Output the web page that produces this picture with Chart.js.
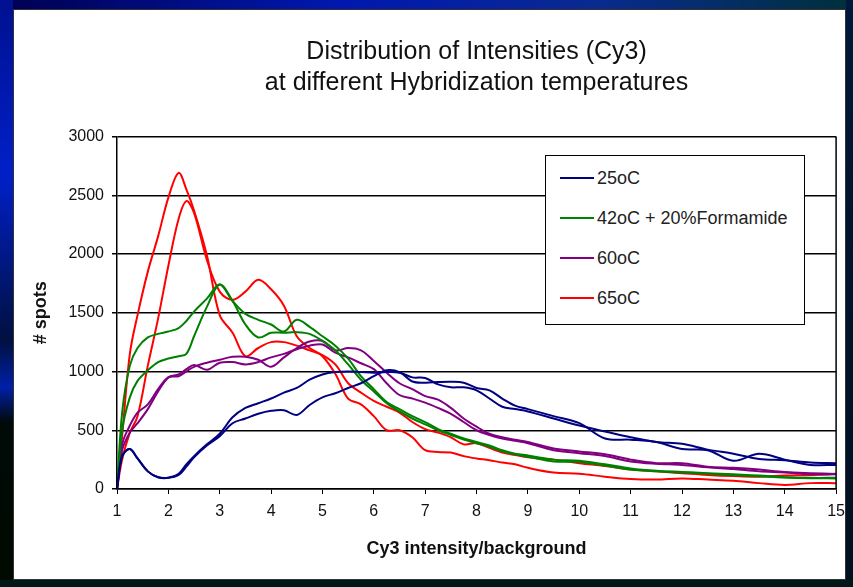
<!DOCTYPE html>
<html>
<head>
<meta charset="utf-8">
<script src="https://cdn.jsdelivr.net/npm/chart.js@4/dist/chart.umd.min.js"></script>
<style>
  html, body { margin: 0; padding: 0; }
  body { width: 853px; height: 587px; position: relative; overflow: hidden; background: #00124a; font-family: "Liberation Sans", Arial, sans-serif; }
  .band { position: absolute; }
  #top-band { left: 0; top: 0; width: 853px; height: 9px; background: linear-gradient(to right, #000050, #0018b0 40%, #0a2a90 70%, #00303a); }
  #left-band { left: 0; top: 0; width: 13px; height: 587px; background: linear-gradient(to bottom, #001090 0%, #0020c8 30%, #001040 58%, #0020a8 66%, #000a08 72%, #000a00 100%); }
  #right-band { right: 0; top: 0; width: 7px; height: 587px; background: linear-gradient(to bottom, #00183a, #001020); }
  #bottom-band { left: 0; bottom: 0; width: 853px; height: 7px; background: #001818; }
  #page { position: absolute; left: 13px; top: 9px; width: 831px; height: 569px; background: #fff; border: 1px solid #333; }
  #chart-wrap { position: absolute; left: 0; top: 0; width: 853px; height: 587px; }
  #legend { position: absolute; left: 545px; top: 155px; width: 258px; height: 168px; background: #fff; border: 1.5px solid #000; }
  .entry { position: absolute; left: 14px; height: 20px; font-size: 18px; color: #222; white-space: nowrap; }
  .entry .swatch { position: absolute; left: 0; top: 9px; width: 34px; height: 2px; }
  .entry span { position: absolute; left: 37px; top: 0; line-height: 20px; }
</style>
</head>
<body>
<div class="band" id="top-band"></div>
<div class="band" id="left-band"></div>
<div class="band" id="right-band"></div>
<div class="band" id="bottom-band"></div>
<div id="page"></div>
<div id="chart-wrap"><canvas id="chart" width="853" height="587"></canvas></div>
<div id="legend"></div>
<script>
// x positions (Cy3 intensity/background) shared by all curves
const xs = [1, 1.1, 1.25, 1.4, 1.6, 1.8, 2, 2.2, 2.35, 2.5, 2.75, 3, 3.25, 3.5, 3.75, 4, 4.25, 4.5, 4.75, 5,
  5.25, 5.5, 5.75, 6, 6.25, 6.5, 6.75, 7, 7.25, 7.5, 7.75, 8, 8.25, 8.5, 8.75, 9, 9.5, 10, 10.5, 11,
  11.5, 12, 12.5, 13, 13.5, 14, 14.5, 15];

// two replicate curves per temperature
const t25a = [0, 280, 340, 260, 150, 100, 95, 130, 210, 280, 380, 470, 610, 690, 730, 770, 820, 860, 930, 975,
  995, 1000, 995, 990, 995, 990, 950, 945, 890, 865, 865, 840, 770, 700, 680, 660, 600, 540, 490, 440,
  400, 385, 335, 300, 255, 245, 225, 220];
const t25b = [0, 280, 340, 260, 150, 100, 95, 120, 190, 270, 370, 450, 560, 600, 640, 665, 670, 630, 715, 780,
  815, 860, 900, 960, 1010, 995, 915, 905, 910, 912, 905, 860, 840, 770, 710, 680, 620, 560, 430, 420,
  400, 340, 330, 240, 300, 250, 205, 205];
const t42a = [0, 650, 1050, 1200, 1290, 1320, 1340, 1370, 1430, 1510, 1620, 1740, 1600, 1490, 1440, 1400, 1340, 1440, 1380, 1300,
  1220, 1110, 960, 850, 740, 680, 620, 570, 510, 470, 430, 400, 370, 330, 300, 285, 250, 240, 210, 175,
  155, 145, 135, 125, 115, 100, 95, 95];
const t42b = [0, 500, 780, 920, 1010, 1080, 1110, 1130, 1150, 1300, 1550, 1740, 1600, 1400, 1290, 1330, 1330, 1335, 1320, 1260,
  1180, 1060, 930, 830, 730, 660, 600, 550, 500, 460, 420, 390, 360, 320, 295, 275, 235, 230, 200, 165,
  150, 140, 130, 118, 108, 98, 92, 90];
const t60a = [0, 380, 540, 650, 720, 850, 950, 960, 1000, 1040, 1075, 1100, 1125, 1125, 1100, 1040, 1120, 1200, 1255, 1260,
  1180, 1200, 1180, 1090, 990, 900, 850, 790, 760, 690, 600, 530, 470, 440, 420, 400, 345, 320, 295, 250,
  220, 220, 190, 180, 165, 145, 135, 128];
const t60b = [0, 330, 480, 560, 680, 830, 950, 975, 1020, 1055, 1015, 1075, 1080, 1060, 1080, 1120, 1150, 1190, 1220, 1230,
  1160, 1120, 1070, 1020, 900, 800, 770, 735, 690, 640, 570, 500, 460, 430, 410, 390, 330, 305, 280, 235,
  215, 205, 185, 170, 150, 140, 125, 125];
const t65a = [0, 450, 1150, 1480, 1850, 2150, 2480, 2690, 2550, 2370, 1990, 1480, 1330, 1130, 1200, 1250, 1250, 1220, 1180, 1140,
  1060, 900, 820, 750, 700, 650, 570, 510, 480, 440, 380, 390, 350, 310, 290, 270, 250, 220, 195, 165,
  150, 135, 120, 110, 105, 115, 120, 130];
const t65b = [0, 250, 480, 620, 1050, 1450, 1900, 2300, 2450, 2350, 1950, 1680, 1610, 1680, 1780, 1700, 1560, 1300, 1200, 1130,
  980, 770, 720, 620, 500, 500, 440, 330, 315, 310, 280, 260, 245, 225, 210, 180, 140, 130, 105, 85,
  80, 90, 80, 70, 50, 35, 50, 50];

const seriesNames = ["25oC", "42oC + 20%Formamide", "60oC", "65oC"];
const seriesColors = ["#000080", "#008000", "#800080", "#ff0000"];
const seriesData = [[t25a, t25b], [t42a, t42b], [t60a, t60b], [t65a, t65b]];

const FONT = "'Liberation Sans', Arial, sans-serif";

const datasets = [];
seriesData.forEach((pair, s) => {
  pair.forEach((vals, r) => {
    datasets.push({
      label: seriesNames[s] + (r ? " (rep 2)" : ""),
      data: xs.map((x, i) => ({ x: x, y: vals[i] })),
      borderColor: seriesColors[s],
      backgroundColor: seriesColors[s],
      borderWidth: 2,
      pointRadius: 0,
      tension: 0.35,
      fill: false,
    });
  });
});

// legend box sits inside the plot area like the original
const legendDiv = document.getElementById("legend");
seriesNames.forEach((name, i) => {
  const e = document.createElement("div");
  e.className = "entry";
  e.style.top = (12 + i * 40) + "px";
  e.innerHTML = `<div class="swatch" style="background:${seriesColors[i]}"></div><span>${name}</span>`;
  legendDiv.appendChild(e);
});

// frame on the right side of the plot area
const plotBorder = {
  id: "plotBorder",
  afterDatasetsDraw(chart) {
    const { ctx, chartArea: a } = chart;
    ctx.save();
    ctx.strokeStyle = "#000";
    ctx.lineWidth = 1.5;
    ctx.beginPath();
    ctx.moveTo(a.right, a.top);
    ctx.lineTo(a.right, a.bottom);
    ctx.stroke();
    ctx.restore();
  },
};

new Chart(document.getElementById("chart"), {
  type: "line",
  data: { datasets: datasets },
  plugins: [plotBorder],
  options: {
    responsive: false,
    animation: false,
    layout: { padding: { left: 20, right: 16, top: 36, bottom: 20 } },
    plugins: {
      legend: { display: false },
      tooltip: { enabled: false },
      title: {
        display: true,
        fullSize: false,
        text: ["Distribution of Intensities (Cy3)", "at different Hybridization temperatures"],
        color: "#111",
        font: { family: FONT, size: 25, weight: "normal", lineHeight: 1.25 },
        padding: { top: 0, bottom: 38 },
      },
    },
    scales: {
      x: {
        type: "linear",
        min: 1,
        max: 15,
        afterFit: (scale) => { scale.height = 78; },
        ticks: { stepSize: 1, color: "#111", padding: 8, font: { family: FONT, size: 16 } },
        grid: { drawOnChartArea: false, drawTicks: true, tickLength: 5, color: "#000", tickColor: "#000" },
        border: { color: "#000", width: 1.5 },
        title: {
          display: true,
          text: "Cy3 intensity/background",
          color: "#111",
          font: { family: FONT, size: 18, weight: "bold", lineHeight: 1.2 },
          padding: { top: 0, bottom: 7 },
        },
      },
      y: {
        min: 0,
        max: 3000,
        afterFit: (scale) => { scale.width = 97; },
        ticks: { stepSize: 500, color: "#111", padding: 8, font: { family: FONT, size: 16 }, callback: (v) => String(v) },
        grid: { color: "#000", lineWidth: 1.5, tickLength: 5, tickColor: "#000" },
        border: { color: "#000", width: 1.5 },
        title: {
          display: true,
          text: "# spots",
          color: "#111",
          font: { family: FONT, size: 18, weight: "bold", lineHeight: 1.2 },
          padding: { top: 10, bottom: 0 },
        },
      },
    },
  },
});
</script>
</body>
</html>
